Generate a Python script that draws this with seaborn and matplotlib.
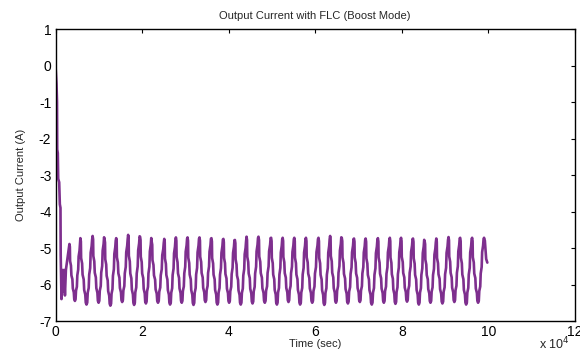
import numpy as np
import pandas as pd
import matplotlib
matplotlib.use("Agg")
import matplotlib.pyplot as plt
import seaborn as sns

# ---- data ----
# initial transient (time in s, current in A)
start_t = [0, 230, 350, 400, 530, 620, 850, 1000, 1150, 1200, 1380, 1500, 1700, 1950, 2180, 2400]
start_i = [0.0, -0.5, -1.0, -2.3, -2.4, -3.1, -3.2, -3.8, -3.9, -5.2, -6.4, -5.6, -6.2, -5.6, -6.3, -5.6]

# oscillation peaks
peak_t = [3218, 5747, 8575, 11333, 14023, 16782, 19540, 22230, 25126, 27816,
          30506, 33264, 36023, 38782, 41448, 44138, 46897, 49816, 52483, 55172,
          57862, 60759, 63448, 66138, 68966, 71655, 74483, 77241, 79839, 82598,
          85287, 87977, 90805, 93494, 96253, 99011]
peak_i = [-4.89, -4.73, -4.67, -4.76, -4.73, -4.64, -4.69, -4.83, -4.75, -4.71,
          -4.71, -4.71, -4.73, -4.75, -4.78, -4.69, -4.69, -4.72, -4.72, -4.72,
          -4.72, -4.72, -4.67, -4.72, -4.74, -4.74, -4.73, -4.72, -4.72, -4.74,
          -4.81, -4.74, -4.70, -4.72, -4.72, -4.72]
trough_i = [-6.45, -6.55, -6.50, -6.58, -6.48, -6.56, -6.52, -6.50, -6.55, -6.50,
            -6.56, -6.48, -6.55, -6.50, -6.55, -6.52, -6.50, -6.55, -6.48, -6.55,
            -6.50, -6.56, -6.50, -6.52, -6.48, -6.55, -6.50, -6.53, -6.47, -6.55,
            -6.50, -6.52, -6.48, -6.55, -6.50, -6.50]

# shape of one cycle (fraction of period, fraction of peak-to-trough drop)
cycle_frac = [0.0, 0.04, 0.06, 0.14, 0.18, 0.27, 0.31, 0.40, 0.44, 0.50,
              0.56, 0.60, 0.68, 0.72, 0.80, 0.84, 0.92, 0.96]
cycle_lvl = [0.0, 0.05, 0.30, 0.38, 0.55, 0.62, 0.78, 0.85, 0.97, 1.0,
             0.97, 0.82, 0.75, 0.55, 0.45, 0.22, 0.12, 0.02]

# tail after the last peak
end_t = [99200, 99500, 99770]
end_i = [-4.80, -5.30, -5.40]

# ---- build series ----
ts, vs = list(start_t), list(start_i)
for k in range(len(peak_t)):
    if k < len(peak_t) - 1:
        p = peak_t[k + 1] - peak_t[k]
        for f, l in zip(cycle_frac, cycle_lvl):
            ts.append(peak_t[k] + f * p)
            vs.append(peak_i[k] + l * (trough_i[k] - peak_i[k]))
    else:
        ts.append(peak_t[k])
        vs.append(peak_i[k])
ts += end_t
vs += end_i
df = pd.DataFrame({"t": ts, "i": vs})

sns.set_style("white")
plt.rcParams["font.family"] = ["Liberation Sans", "DejaVu Sans"]

fig = plt.figure(figsize=(5.8, 3.54), dpi=100)
ax = fig.add_axes([0.0957, 0.0932, 0.8955, 0.8248])
sns.lineplot(data=df, x="t", y="i", sort=False, estimator=None,
             color="#7E2F8E", linewidth=1.9, ax=ax)

ax.set_xlim(0, 120000)
ax.set_ylim(-7, 1)
ax.set_xticks(np.arange(0, 120001, 20000))
ax.set_xticklabels(["0", "2", "4", "6", "8", "10", "12"])
ax.set_yticks(np.arange(-7, 2, 1))
ax.set_yticklabels([str(v) for v in range(-7, 2)])
ax.tick_params(direction="in", length=3, width=0.8, labelsize=10,
               top=True, right=True, colors="black", pad=3)
for s in ax.spines.values():
    s.set_visible(True)
    s.set_color("black")
    s.set_linewidth(1.0)

ax.set_title("Output Current with FLC (Boost Mode)", fontsize=8, pad=7)
ax.set_xlabel("Time (sec)", fontsize=8, labelpad=0)
ax.set_ylabel("Output Current (A)", fontsize=8, labelpad=9)
fig.text(0.93, 0.005, r"x 10$^{4}$", fontsize=9, ha="left", va="bottom")

fig.savefig("out.png", dpi=100)
